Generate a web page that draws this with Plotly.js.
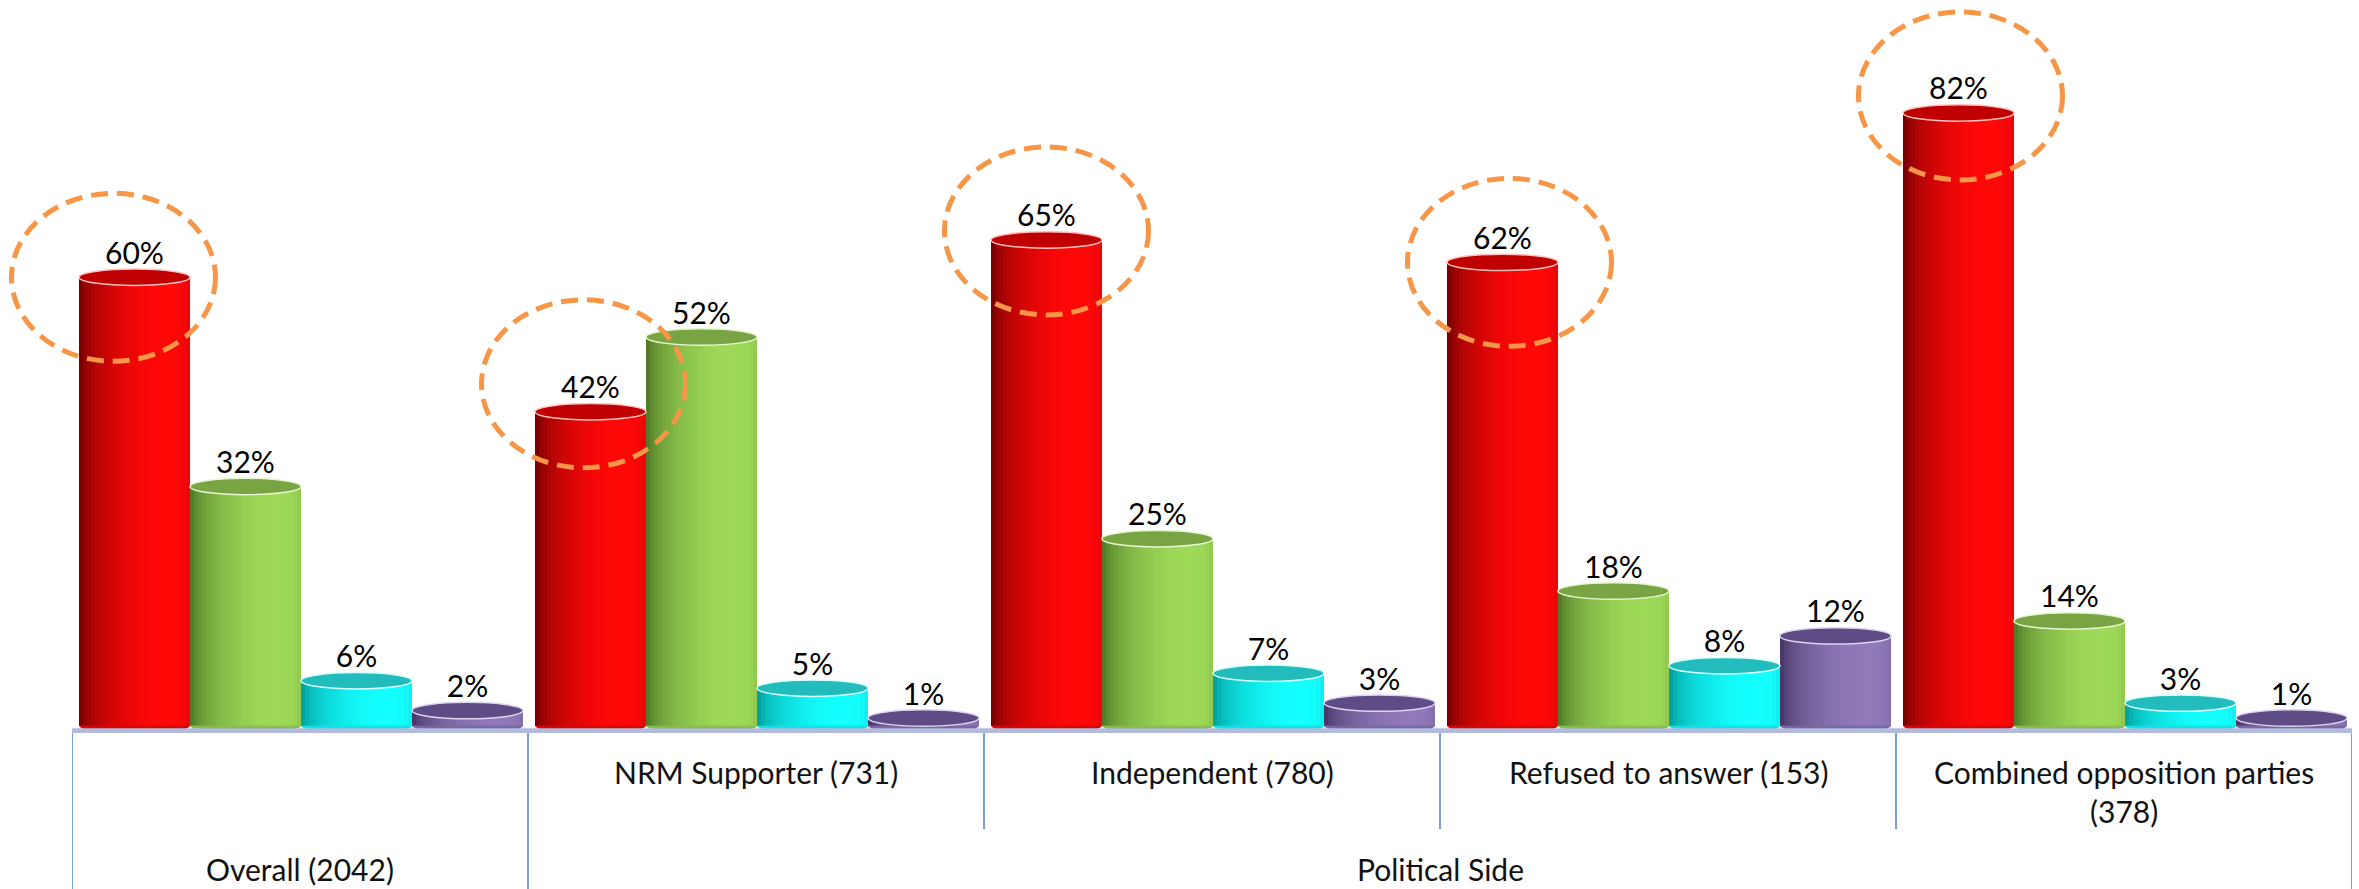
<!DOCTYPE html>
<html>
<head>
<meta charset="utf-8">
<script src="https://cdn.plot.ly/plotly-3.0.1.min.js"></script>
<style>
  html, body { margin: 0; padding: 0; background: #ffffff; }
  #chart { width: 2359px; height: 889px; }
</style>
</head>
<body>
<div id="chart"></div>
<script>
// ---------------- DATA ----------------
const categories = ['Overall (2042)', 'NRM Supporter (731)', 'Independent (780)', 'Refused to answer (153)', 'Combined opposition parties<br>(378)'];
const subLabels = ['', 'NRM Supporter (731)', 'Independent (780)', 'Refused to answer (153)', 'Combined opposition parties<br>(378)'];
const topLabels = ['Overall (2042)', 'Political Side'];
const topSpans = [[0, 0], [1, 4]];

const seriesRed    = [60, 42, 65, 62, 82];
const seriesGreen  = [32, 52, 25, 18, 14];
const seriesCyan   = [6, 5, 7, 8, 3];
const seriesPurple = [2, 1, 3, 12, 1];
const highlighted  = seriesRed; // circled values

// ---------------- STYLE ----------------
const seriesList = [
  { name: 'Series 1', values: seriesRed,    dark: [100, 0, 0],    bright: [255, 8, 8],     cap: '#c00000', rim: '#ffc0c0' },
  { name: 'Series 2', values: seriesGreen,  dark: [70, 108, 32],  bright: [158, 218, 88],  cap: '#79a443', rim: '#e6f7d0' },
  { name: 'Series 3', values: seriesCyan,   dark: [0, 145, 145],  bright: [20, 255, 255],  cap: '#22bcbc', rim: '#d8ffff' },
  { name: 'Series 4', values: seriesPurple, dark: [60, 46, 94],   bright: [144, 122, 186], cap: '#5e4c86', rim: '#ddd4f0' }
];
// hand-placed nudges of the highlight ellipses (px: right, up)
const ellipseNudgeX = [-21, -7, 0, 7, 2];
const ellipseNudgeY = [0, 28, 9, 0, 17];

const FONT = 'Lato, "Open Sans", "DejaVu Sans", sans-serif';
const FS = 30;
const barW = 111 / 456;
const startOff = -0.5 + 7 / 456;
const N = 28;
const capH = 2.2;        // y units
const yMin = -1.0, yMax = 97.12;
const xMin = -0.5, xMax = 4.5;
const plotW = 2359 - 72 - 7, plotH = 733;

function mix(a, b, t) {
  return 'rgb(' + a.map((v, i) => Math.round(v + (b[i] - v) * t)).join(',') + ')';
}
function shade(t) {
  const th = Math.asin(2 * t - 1);
  let I = Math.cos((th - 0.6) * 0.75);
  return Math.max(0, Math.min(1, I));
}
const px = x => (x - xMin) / (xMax - xMin);
const py = y => (y - yMin) / (yMax - yMin);

const xIdx = categories.map((c, i) => i);
const traces = [];
const shapes = [];

seriesList.forEach((s, si) => {
  const off = startOff + si * barW;
  const w = barW / N;
  for (let j = 0; j < N; j++) {
    const t = (j + 0.5) / N;
    traces.push({
      type: 'bar', x: xIdx, y: s.values,
      offset: off + j * w, width: (j < N - 1 ? w * 1.6 : w),
      marker: { color: mix(s.dark, s.bright, shade(t)), line: { width: 0 } },
      showlegend: false, hoverinfo: 'skip', name: s.name
    });
  }
  s.values.forEach((v, i) => {
    const x0 = i + off, x1 = i + off + barW;
    shapes.push({ type: 'circle', xref: 'x', yref: 'y', x0: x0, x1: x1, y0: v - capH / 2, y1: v + capH / 2,
      fillcolor: s.cap, line: { color: s.rim, width: 1.5 }, layer: 'above' });
    shapes.push({ type: 'circle', xref: 'x', yref: 'y', x0: x0, x1: x1, y0: -capH / 2, y1: capH / 2,
      fillcolor: mix(s.dark, s.bright, 0.75), line: { width: 0 }, layer: 'below' });
  });
  traces.push({
    type: 'scatter', mode: 'text',
    x: xIdx.map(i => i + off + barW / 2), y: s.values.map(v => v + capH / 2 - 0.3),
    text: s.values.map(v => v + '%'), textposition: 'top center',
    textfont: { family: FONT, size: FS, color: '#000000' },
    showlegend: false, hoverinfo: 'skip', cliponaxis: false
  });
});

// floor
shapes.push({ type: 'rect', xref: 'paper', yref: 'y', x0: 0, x1: 1, y0: yMin, y1: -0.35,
  fillcolor: '#b3bbdc', line: { width: 0 }, layer: 'above' });

// highlight ellipses around the first series (paper coords so they are not clipped)
const ewPx = 204, ehPx = 168;
highlighted.forEach((v, i) => {
  const cxp = px(i + startOff + barW / 2) + ellipseNudgeX[i] / plotW;
  const cyp = py(v) + ellipseNudgeY[i] / plotH;
  const hw = ewPx / 2 / plotW, hh = ehPx / 2 / plotH;
  shapes.push({ type: 'circle', xref: 'paper', yref: 'paper', x0: cxp - hw, x1: cxp + hw, y0: cyp - hh, y1: cyp + hh,
    line: { color: '#F79646', width: 5, dash: '17px,9px' }, fillcolor: 'rgba(0,0,0,0)', layer: 'above' });
});

// category dividers
const longY = -(889 - 733) / plotH, shortY = -(829 - 733) / plotH;
const boundaries = [];
for (let k = 0; k <= categories.length; k++) boundaries.push(k - 0.5);
const topEdges = new Set([topSpans[0][0] - 0.5, topSpans[0][1] + 0.5, topSpans[1][1] + 0.5]);
boundaries.forEach(b => {
  shapes.push({ type: 'line', xref: 'x', yref: 'paper', x0: b, x1: b, y0: 0, y1: topEdges.has(b) ? longY : shortY,
    line: { color: '#4F81BD', width: 1.5 }, layer: 'above' });
});

// category labels
const annotations = [];
subLabels.forEach((lab, i) => {
  if (!lab) return;
  annotations.push({ x: i, xref: 'x', y: 0, yref: 'paper', yanchor: 'top', yshift: -19, showarrow: false,
    text: lab, font: { family: FONT, size: FS, color: '#111111' }, align: 'center' });
});
topLabels.forEach((lab, k) => {
  const cx = (topSpans[k][0] + topSpans[k][1]) / 2;
  annotations.push({ x: cx, xref: 'x', y: 0, yref: 'paper', yanchor: 'top', yshift: -116, showarrow: false,
    text: lab, font: { family: FONT, size: FS, color: '#111111' }, align: 'center' });
});

const layout = {
  width: 2359, height: 889,
  margin: { l: 72, r: 7, t: 0, b: 156, pad: 0 },
  paper_bgcolor: '#ffffff', plot_bgcolor: '#ffffff',
  barmode: 'overlay',
  showlegend: false, hovermode: false,
  xaxis: { type: 'linear', range: [xMin, xMax], showgrid: false, zeroline: false, showline: false, showticklabels: false, ticks: '', fixedrange: true },
  yaxis: { range: [yMin, yMax], visible: false, showgrid: false, zeroline: false, fixedrange: true },
  shapes: shapes,
  annotations: annotations,
  font: { family: FONT }
};

Plotly.newPlot('chart', traces, layout, { displayModeBar: false, staticPlot: true });
</script>
</body>
</html>
